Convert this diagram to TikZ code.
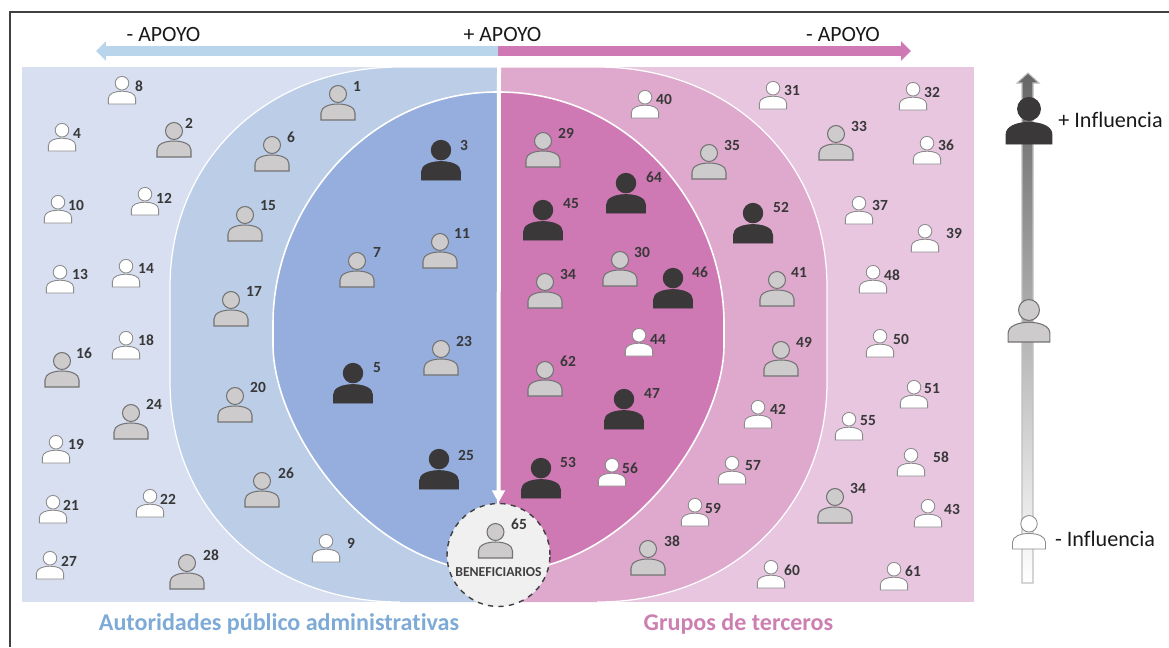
\documentclass[tikz,border=0pt]{standalone}
\usepackage{fontspec}
\setmainfont{Carlito}[Ligatures=NoCommon]
\definecolor{azulclaro}{HTML}{D7DFF0}
\definecolor{azulmedio}{HTML}{BCCDE8}
\definecolor{azulfuerte}{HTML}{95AEDD}
\definecolor{rosaclaro}{HTML}{E8C6E0}
\definecolor{rosamedio}{HTML}{DFA9CD}
\definecolor{rosafuerte}{HTML}{CE78B4}
\definecolor{flechaazul}{HTML}{B9D5EC}
\definecolor{textoazul}{HTML}{7DAAD6}
\definecolor{textorosa}{HTML}{CC7FB1}
\definecolor{oscuro}{HTML}{3A3838}
\definecolor{medio}{HTML}{CDCBCB}
\usetikzlibrary{arrows.meta, positioning}
\tikzset{
  persona/.pic={
    \path[pic actions] (-17,0) -- (-17,-7) .. controls (-17,-13) and (-9,-16) .. (0,-16)
      .. controls (9,-16) and (17,-13) .. (17,-7) -- (17,0) -- cycle;
    \path[pic actions] (0,-26) circle[radius=8.5];
  },
  blanca/.style={fill=white, draw=black!45, line width=0.5pt},
  gris/.style={fill=medio, draw=black!55, line width=0.6pt},
  negra/.style={fill=oscuro, draw=oscuro, line width=0.5pt},
  numero/.style={font=\fontsize{8.8}{10}\selectfont\bfseries, text=black!78, inner sep=0pt},
  apoyo/.style={font=\fontsize{12.4}{14}\selectfont, text=black!90, inner sep=0pt},
  influencia/.style={font=\fontsize{12.6}{15}\selectfont, text=black!90, inner sep=0pt},
  grupo/.style={font=\fontsize{13.7}{16}\selectfont\bfseries, inner sep=0pt},
}

\begin{document}
\begin{tikzpicture}[x=0.02cm, y=-0.02cm]
    \useasboundingbox (0,0) rectangle (1169,647);
    % Marco
    \draw[black!75, line width=0.8pt] (10,647) -- (10,12) -- (1169,12);
    % Fondo
    \fill[azulclaro] (22,67) rectangle (498,602);
    \fill[rosaclaro] (498,67) rectangle (974,602);
    % Banda exterior
    \fill[azulmedio] (498,67) -- (400,67) .. controls (267,67) and (170,160) .. (170,287)
      -- (170,382) .. controls (170,509) and (267,602) .. (400,602) -- (498,602) -- cycle;
    \fill[rosamedio] (498,67) -- (597,67) .. controls (730,67) and (827,160) .. (827,287)
      -- (827,382) .. controls (827,509) and (730,602) .. (597,602) -- (498,602) -- cycle;
    \draw[white, line width=0.7pt] (498,67) -- (400,67) .. controls (267,67) and (170,160) .. (170,287)
      -- (170,382) .. controls (170,509) and (267,602) .. (400,602);
    \draw[white, line width=0.7pt] (498,67) -- (597,67) .. controls (730,67) and (827,160) .. (827,287)
      -- (827,382) .. controls (827,509) and (730,602) .. (597,602);
    % Banda interior
    \filldraw[fill=azulfuerte, draw=white, line width=0.9pt] (498,92) -- (497,92) .. controls (365,92) and (273,210) .. (273,323)
      -- (273,345) .. controls (273,430) and (370,572) .. (497,572) -- (498,572) -- cycle;
    \filldraw[fill=rosafuerte, draw=white, line width=0.9pt] (498,92) -- (499,92) .. controls (632,92) and (724,210) .. (724,323)
      -- (724,345) .. controls (724,430) and (627,572) .. (499,572) -- (498,572) -- cycle;
    % Flecha de apoyo
    \coordinate (centro) at (498,51);
    \coordinate (izq) at (96,51);
    \coordinate (der) at (911,51);
    \draw[flechaazul, line width=0.2cm, -{Triangle[width=0.38cm, length=0.2cm]}] (centro) -- (izq);
    \draw[rosafuerte, line width=0.2cm, -{Triangle[width=0.38cm, length=0.2cm]}] (centro) -- (der);
    \node[apoyo] (apoyoizq) at (163.5,34) {- APOYO};
    \node[apoyo] (apoyomas) at (502.5,34) {+ APOYO};
    \node[apoyo] (apoyoder) at (843,34) {- APOYO};
    % Beneficiarios
    \node[circle, draw=black!75, dashed, line width=0.8pt, fill=black!6, minimum size=2.06cm, inner sep=0pt] (benef) at (498.5,555) {};
    \coordinate (arriba) at (499,67);
    \draw[white, line width=0.08cm, -{Triangle[width=0.25cm, length=0.25cm]}] (arriba) -- (benef.north);
    \pic[gris] (p65) at (495.5,558) {persona};
    \node[numero] (n65) at (519,524) {65};
    \node[font=\fontsize{7.8}{9}\selectfont\bfseries, text=black!75, inner sep=0pt] (benefnombre) at (498.5,572) {BENEFICIARIOS};
    % Personas blancas: x/y/x del numero/y del numero/numero
    \foreach \px/\py/\lx/\ly/\num in {122/104/139/86/8, 62/151/77/133/4, 58/223/76/205/10, 145/215/164/198/12,
      60/293/80/274/13, 126/287/146/268/14, 126/359/146/340/18, 56/463/76/444/19, 53/523/71/505/21,
      150/517/168/499/22, 50/579/69/561/27, 326/562/351/543/9, 645/118/664/99/40, 773/109/792/90/31,
      913/110/932/92/32, 927/164/946/145/36, 859/224/880/205/37, 925/252/954/233/39, 873/293/892/275/48,
      880/357/901/339/50, 914/408/932/389/51, 849/440/868/421/55, 911/476/941/457/58, 928/527/952/509/43,
      758/428/778/409/42, 732/484/753/466/57, 695/526/713/508/59, 771/588/792/570/60, 894/590/913/571/61,
      639/356/658/339/44, 612/486/630/468/56}
      {
      \pic[blanca, scale=0.8] (p\num) at (\px,\py) {persona};
      \node[numero] (n\num) at (\lx,\ly) {\num};
      }
    % Personas grises
    \foreach \px/\py/\lx/\ly/\num/\nom in {338/120/357/86/1/1, 174/157/189/123/2/2, 272/171/291/137/6/6, 245/241/268/206/15/15,
      231/326/254/291/17/17, 235/422/258/387/20/20, 262/507/286/473/26/26, 62/387/84/353/16/16,
      131/439/154/404/24/24, 187/589/211/555/28/28, 357/287/377/252/7/7, 440/268/462/233/11/11,
      441/375/464/341/23/23, 543/167/566/133/29/29, 709/179/732/145/35/35, 836/160/859/126/33/33,
      620/286/642/252/30/30, 545/308/568/274/34/34, 777/306/799/272/41/41, 781/376/804/342/49/49,
      545/396/568/361/62/62, 835/523/858/488/34/34b, 648/575/672/541/38/38}
      {
      \pic[gris] (p\nom) at (\px,\py) {persona};
      \node[numero] (n\nom) at (\lx,\ly) {\num};
      }
    % Personas negras
    \foreach \px/\py/\lx/\ly/\num in {441/180/464/145/3, 353/403/377/368/5, 439/489/466/455/25, 543/240/571/204/45,
      626/213/654/177/64, 753/243/781/207/52, 673/308/700/272/46, 624/429/652/393/47, 541/498/568/462/53}
      {
      \pic[negra, scale=1.15] (p\num) at (\px,\py) {persona};
      \node[numero] (n\num) at (\lx,\ly) {\num};
      }
    % Escala de influencia
    \shade[top color=black!60, middle color=black!15, bottom color=white, draw=black!25, line width=0.6pt]
      (1028,73) -- (1039,83) -- (1033,83) -- (1033,583) -- (1022,583) -- (1022,83) -- (1017,83) -- cycle;
    \pic[negra, scale=1.35] (pmas) at (1029,144) {persona};
    \pic[gris, scale=1.23] (pmedio) at (1029,342) {persona};
    \pic[blanca, scale=0.97] (pmenos) at (1029,549) {persona};
    \node[influencia] (masinf) at (1110.5,120) {+ Influencia};
    \node[influencia] (menosinf) at (1105,539) {- Influencia};
    % Nombres de los grupos
    \node[grupo, text=textoazul] (autoridades) at (279,624) {Autoridades público administrativas};
    \node[grupo, text=textorosa] (terceros) at (738.5,624) {Grupos de terceros};
\end{tikzpicture}
\end{document}
